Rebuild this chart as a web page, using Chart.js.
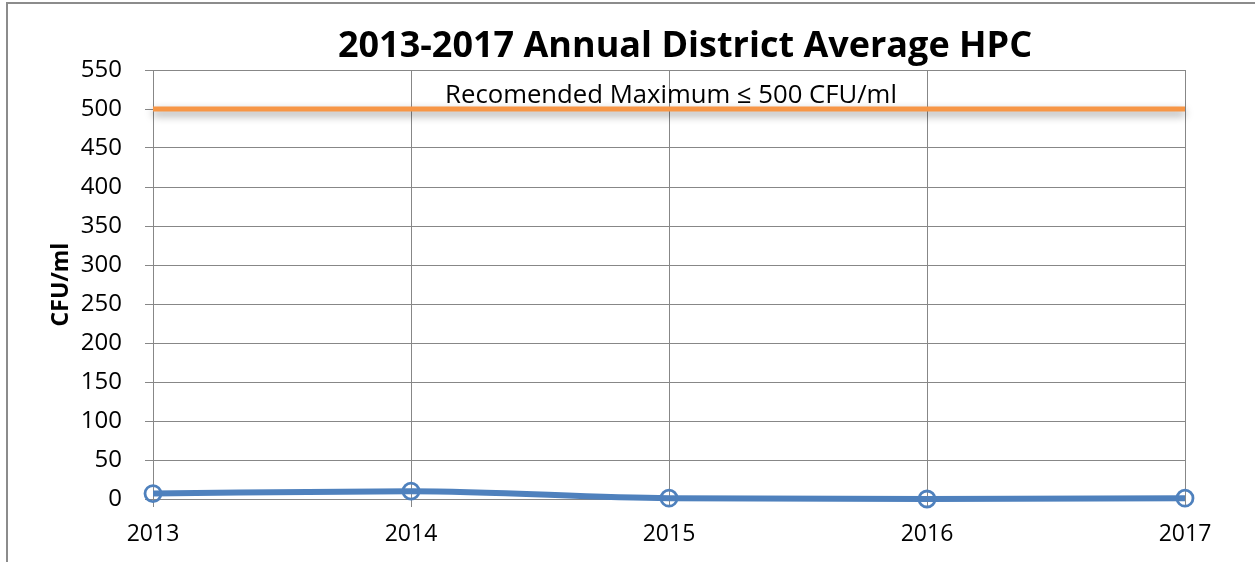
<!DOCTYPE html>
<html>
<head>
<meta charset="utf-8">
<script src="https://cdn.jsdelivr.net/npm/chart.js@4"></script>
<style>
  html, body { margin: 0; padding: 0; background: #fff; }
  #wrap { width: 1255px; height: 562px; position: relative; }
</style>
</head>
<body>
<div id="wrap"><canvas id="hpcChart"></canvas></div>
<script>
// chart data
const years = ['2013', '2014', '2015', '2016', '2017'];
const avgHpc = [7, 10, 1, 0, 1];
const recommendedMax = [500, 500, 500, 500, 500];
const yTicksMin = 0;
const yTicksMax = 550;
const yTicksStep = 50;

const FONT = "'Open Sans', 'DejaVu Sans', sans-serif";
const GRID = '#878787';

// grey frame round the chart, like the pasted Excel box
const framePlugin = {
  id: 'frame',
  beforeDraw(chart) {
    const ctx = chart.ctx;
    ctx.save();
    ctx.strokeStyle = '#8c8c8c';
    ctx.lineWidth = 2;
    ctx.beginPath();
    ctx.moveTo(7, chart.height);
    ctx.lineTo(7, 3);
    ctx.lineTo(chart.width, 3);
    ctx.stroke();
    ctx.restore();
  }
};

// title drawn by hand so it can sit off-centre like the original
const titlePlugin = {
  id: 'bigTitle',
  afterDraw(chart) {
    const ctx = chart.ctx;
    ctx.save();
    ctx.font = 'bold 36px ' + FONT;
    ctx.fillStyle = '#000';
    ctx.textAlign = 'center';
    ctx.textBaseline = 'alphabetic';
    ctx.fillText('2013-2017 Annual District Average HPC', 685, 57);
    ctx.restore();
  }
};

// soft drop shadow under the limit line
const shadowPlugin = {
  id: 'limitShadow',
  beforeDatasetDraw(chart, args) {
    if (args.index !== 1) return;
    const ctx = chart.ctx;
    ctx.save();
    ctx.shadowColor = 'rgba(0,0,0,0.4)';
    ctx.shadowBlur = 8;
    ctx.shadowOffsetY = 4;
  },
  afterDatasetDraw(chart, args) {
    if (args.index !== 1) return;
    chart.ctx.restore();
  }
};

// label above the limit line
const limitLabel = {
  id: 'limitLabel',
  afterDatasetsDraw(chart) {
    const { ctx, chartArea, scales } = chart;
    const y = scales.y.getPixelForValue(recommendedMax[0]);
    ctx.save();
    ctx.font = '25.7px ' + FONT;
    ctx.fillStyle = '#000';
    ctx.textAlign = 'center';
    ctx.textBaseline = 'alphabetic';
    ctx.fillText('Recomended Maximum \u2264 500 CFU/ml', (chartArea.left + chartArea.right) / 2 + 2, y - 6);
    ctx.restore();
  }
};

new Chart(document.getElementById('hpcChart'), {
  type: 'line',
  data: {
    labels: years,
    datasets: [
      {
        label: 'District Average HPC',
        data: avgHpc,
        borderColor: '#4f81bd',
        borderWidth: 6,
        cubicInterpolationMode: 'monotone',
        pointRadius: 8,
        pointBorderWidth: 2.8,
        pointBackgroundColor: 'rgba(0,0,0,0)',
        pointBorderColor: '#4f81bd',
        clip: false
      },
      {
        label: 'Recommended Maximum',
        data: recommendedMax,
        borderColor: '#f79646',
        borderWidth: 5,
        pointRadius: 0,
        clip: false
      }
    ]
  },
  options: {
    responsive: true,
    maintainAspectRatio: false,
    animation: false,
    layout: { padding: { left: 0, right: 70, top: 70, bottom: 0 } },
    plugins: {
      legend: { display: false },
      tooltip: { enabled: false },
      title: { display: false }
    },
    scales: {
      x: {
        offset: false,
        grid: { color: GRID, tickLength: 8, lineWidth: 1 },
        border: { color: GRID },
        ticks: { color: '#000', padding: 14, maxRotation: 0, font: { family: FONT, size: 23 } },
        afterFit(scale) { scale.height = 63; }
      },
      y: {
        min: yTicksMin,
        max: yTicksMax,
        ticks: { stepSize: yTicksStep, color: '#000', padding: 23, font: { family: FONT, size: 24 } },
        grid: { color: GRID, tickLength: 8, lineWidth: 1 },
        border: { color: GRID },
        title: {
          display: true,
          text: 'CFU/ml',
          color: '#000',
          font: { family: FONT, size: 23, weight: 'bold' },
          padding: { top: 48, bottom: 0 }
        },
        afterFit(scale) { scale.width = 153; }
      }
    }
  },
  plugins: [framePlugin, titlePlugin, shadowPlugin, limitLabel]
});
</script>
</body>
</html>
